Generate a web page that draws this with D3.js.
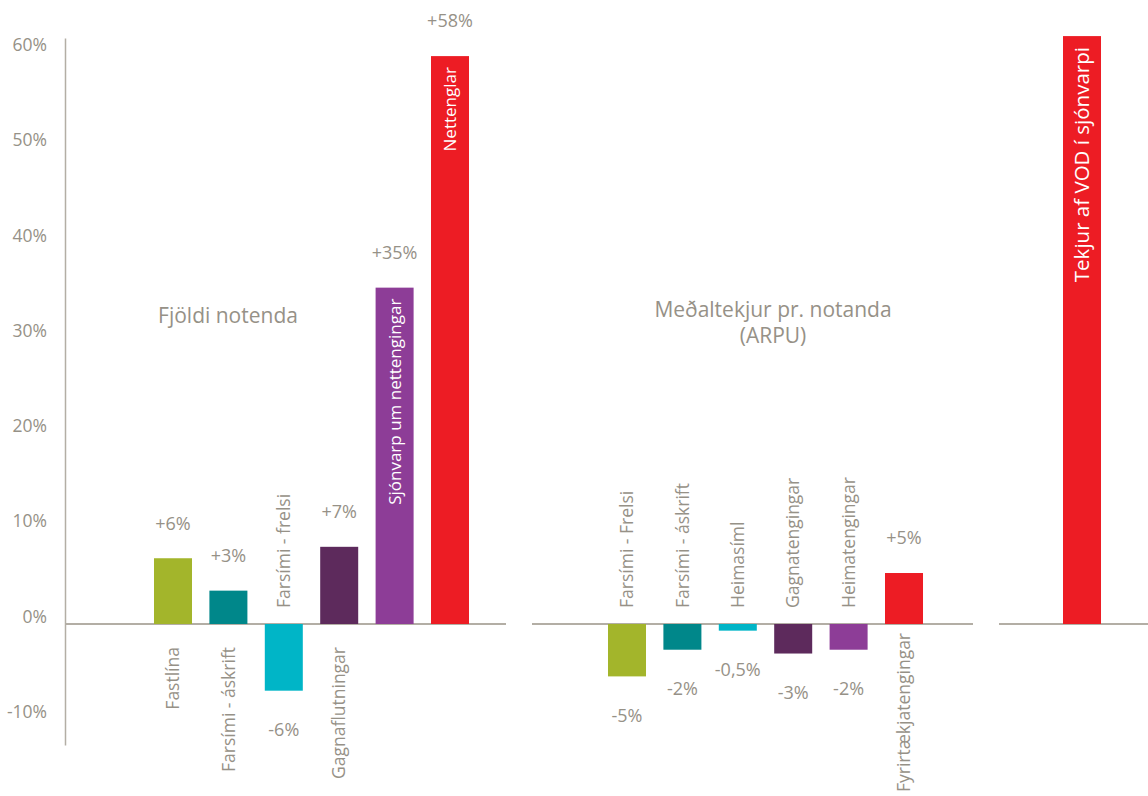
<!DOCTYPE html>
<html>
<head>
<meta charset="utf-8">
<script src="https://cdn.jsdelivr.net/npm/d3@7"></script>
<style>
  html, body { margin: 0; padding: 0; background: #fff; }
  svg text { font-family: "Open Sans", "Noto Sans", sans-serif; font-weight: 400; }
</style>
</head>
<body>
<svg id="chart" width="1148" height="796"></svg>
<script>
// ---- data ----
const usersCategories = ["Fastlína", "Farsími - áskrift", "Farsími - frelsi", "Gagnaflutningar", "Sjónvarp um nettengingar", "Nettenglar"];
const usersValues = [6.9, 3.5, -7.0, 8.1, 35.3, 59.6];
const usersLabels = ["+6%", "+3%", "-6%", "+7%", "+35%", "+58%"];

const arpuCategories = ["Farsími - Frelsi", "Farsími - áskrift", "Heimasíml", "Gagnatengingar", "Heimatengingar", "Fyrirtækjatengingar"];
const arpuValues = [-5.5, -2.7, -0.7, -3.1, -2.7, 5.35];
const arpuLabels = ["-5%", "-2%", "-0,5%", "-3%", "-2%", "+5%"];

const vodCategories = ["Tekjur af VOD í sjónvarpi"];
const vodValues = [61.7];
const vodLabels = [""];

const yTicks = [-10, 0, 10, 20, 30, 40, 50, 60];
const colors = ["#a3b52b", "#00878a", "#00b5c7", "#5d2a5c", "#8d3d97", "#ed1c24"];
const vodColors = ["#ed1c24"];

// which labels go inside the bar
const insideUsers = ["Sjónvarp um nettengingar", "Nettenglar"];
const insideVod = ["Tekjur af VOD í sjónvarpi"];

// ---- layout ----
const svg = d3.select("#chart");
const textColor = "#969187";
const lineColor = "#b3aea5";

const y = d3.scaleLinear().domain([-12.7, 61.5]).range([745, 38]);

// y axis
const yAxis = d3.axisLeft(y).tickValues(yTicks).tickSize(0).tickPadding(18).tickFormat(d => d + "%");
const gy = svg.append("g").attr("transform", "translate(65,0)").call(yAxis);
gy.select(".domain").attr("stroke", lineColor).attr("stroke-width", 1.5);
gy.selectAll("text").attr("fill", textColor).style("font-size", "17.5px")
  .attr("dy", "-0.1em");

function panel(opts) {
  const x = d3.scaleBand().domain(opts.categories)
    .range(opts.range).paddingInner(0.314).paddingOuter(0.157);
  const g = svg.append("g");
  // zero line
  g.append("line").attr("x1", opts.line[0]).attr("x2", opts.line[1])
    .attr("y1", y(0)).attr("y2", y(0)).attr("stroke", lineColor).attr("stroke-width", 2);

  const data = opts.categories.map((c, i) => ({c, v: opts.values[i], lab: opts.labels[i], col: opts.colors[i]}));

  g.selectAll("rect.bar").data(data).join("rect").attr("class", "bar")
    .attr("x", d => x(d.c)).attr("width", x.bandwidth())
    .attr("y", d => y(Math.max(0, d.v)))
    .attr("height", d => Math.abs(y(d.v) - y(0)))
    .attr("fill", d => d.col);

  // value labels
  g.selectAll("text.val").data(data.filter(d => d.lab)).join("text").attr("class", "val")
    .attr("x", d => x(d.c) + x.bandwidth() / 2)
    .attr("y", d => d.v >= 0 ? y(d.v) - 35 : y(d.v) + 39)
    .attr("dy", "0.35em")
    .attr("text-anchor", "middle")
    .attr("fill", textColor).style("font-size", "18px")
    .text(d => d.lab);

  // category labels
  g.selectAll("text.cat").data(data).join("text").attr("class", "cat")
    .each(function(d) {
      const cx = x(d.c) + x.bandwidth() / 2;
      const inside = opts.inside.includes(d.c);
      let ty, anchor, fill;
      if (inside) { ty = y(d.v) + 11; anchor = "end"; fill = "#ffffff"; }
      else if (d.v >= 0) { ty = y(0) + opts.belowGap; anchor = "end"; fill = textColor; }
      else { ty = y(0) - 16; anchor = "start"; fill = textColor; }
      d3.select(this)
        .attr("transform", `translate(${cx},${ty}) rotate(-90)`)
        .attr("text-anchor", anchor)
        .attr("dy", "0.35em")
        .attr("fill", fill)
        .style("font-size", inside ? opts.insideSize : "17.5px")
        .text(d.c);
    });
}

panel({categories: usersCategories, values: usersValues, labels: usersLabels, colors: colors,
       range: [145.3, 477.7], line: [65, 506], inside: insideUsers, belowGap: 23, insideSize: "17px"});
panel({categories: arpuCategories, values: arpuValues, labels: arpuLabels, colors: colors,
       range: [599.3, 931.7], line: [532, 973], inside: [], belowGap: 9, insideSize: "17px"});
panel({categories: vodCategories, values: vodValues, labels: vodLabels, colors: vodColors,
       range: [1054.3, 1109.7], line: [999, 1148], inside: insideVod, belowGap: 9, insideSize: "20.5px"});

// panel titles
svg.append("text").attr("x", 228).attr("y", 323).attr("text-anchor", "middle")
  .attr("fill", textColor).style("font-size", "21px").text("Fjöldi notenda");
const t2 = svg.append("text").attr("x", 773).attr("y", 317).attr("text-anchor", "middle")
  .attr("fill", textColor).style("font-size", "21px");
t2.append("tspan").attr("x", 773).text("Meðaltekjur pr. notanda");
t2.append("tspan").attr("x", 773).attr("dy", 26).text("(ARPU)");
</script>
</body>
</html>
